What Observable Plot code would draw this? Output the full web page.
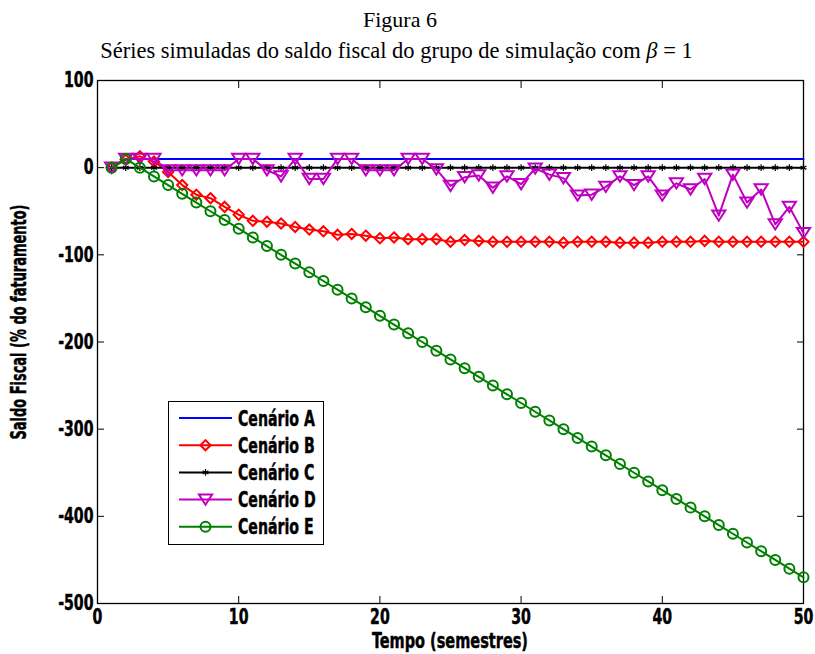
<!DOCTYPE html>
<html>
<head>
<meta charset="utf-8">
<script src="https://cdn.jsdelivr.net/npm/d3@7"></script>
<script src="https://cdn.jsdelivr.net/npm/@observablehq/plot@0.6"></script>
<style>
  body { margin: 0; background: #fff; }
  #wrap { position: relative; width: 815px; height: 654px; overflow: hidden; background: #fff; }
  .hd { position: absolute; left: 0; text-align: center; white-space: nowrap; color: #000;
        font-family: "Liberation Serif", "Times New Roman", serif; z-index: 2; }
  #fig { top: 9px; width: 800px; font-size: 22px; line-height: 22px; }
  #sub { top: 40px; width: 793px; font-size: 22.5px; line-height: 22px; }
  #chart { position: absolute; left: 0; top: 60px; z-index: 1; }
  #legend { position: absolute; left: 168px; top: 401px; z-index: 3; }
  .negrito { stroke: #000; stroke-width: 0.45px; }
</style>
</head>
<body>
<div id="wrap">
  <div class="hd" id="fig">Figura 6</div>
  <div class="hd" id="sub">Séries simuladas do saldo fiscal do grupo de simulação com <i>β</i> = 1</div>
  <div id="chart"></div>
  <svg id="legend" width="157" height="145"></svg>
</div>
<script>
// Time axis (semesters) and tick labels
const tempo = [1, 2, 3, 4, 5, 6, 7, 8, 9, 10, 11, 12, 13, 14, 15, 16, 17, 18, 19, 20,
  21, 22, 23, 24, 25, 26, 27, 28, 29, 30, 31, 32, 33, 34, 35, 36, 37, 38, 39, 40,
  41, 42, 43, 44, 45, 46, 47, 48, 49, 50];
const xTicks = [0, 10, 20, 30, 40, 50];
const yTicks = [100, 0, -100, -200, -300, -400, -500];

// Simulated fiscal balance (% of revenue), one value per semester
const cenarioA = [0, 10, 10, 10, 10, 10, 10, 10, 10, 10, 10, 10, 10, 10, 10, 10, 10, 10, 10, 10,
  10, 10, 10, 10, 10, 10, 10, 10, 10, 10, 10, 10, 10, 10, 10, 10, 10, 10, 10, 10,
  10, 10, 10, 10, 10, 10, 10, 10, 10, 10];
const cenarioB = [0, 9, 13, 7, -5, -20, -31, -35, -45, -54, -61, -62, -64, -68, -71, -73, -77, -76, -78, -81,
  -80, -82, -82, -82, -85, -83, -84, -85, -85, -85, -85, -85, -86, -85, -85, -85, -86, -86, -86, -85,
  -85, -85, -84, -85, -85, -85, -85, -85, -85, -85];
const cenarioC = [0, 0, 0, 0, 0, 0, 0, 0, 0, 0, 0, 0, 0, 0, 0, 0, 0, 0, 0, 0,
  0, 0, 0, 0, 0, 0, 0, 0, 0, 0, 0, 0, 0, 0, 0, 0, 0, 0, 0, 0,
  0, 0, 0, 0, 0, 0, 0, 0, 0, 0];
const cenarioD = [0, 10, 10, 10, -3, -3, -3, -3, -3, 10, 10, -3, -10, 10, -13, -13, 10, 10, -3, -3,
  -3, 10, 10, -2, -21, -11, -9, -23, -10, -19, -1, -8, -12, -32, -31, -22, -10, -20, -10, -32,
  -18, -25, -13, -55, -8, -40, -25, -65, -45, -75];
const cenarioE = [0, 10, 0, -10, -20, -30, -40, -50, -60, -70, -80, -90, -100, -110, -120, -130, -140, -150, -160, -170,
  -180, -190, -200, -210, -220, -230, -240, -250, -260, -270, -280, -290, -300, -310, -320, -330, -340, -350, -360, -370,
  -380, -390, -400, -410, -420, -430, -440, -450, -460, -470];

const nomes = ["Cenário A", "Cenário B", "Cenário C", "Cenário D", "Cenário E"];
const cores = ["#0000ff", "#ff0000", "#000000", "#c000c0", "#008000"];

// Downward-pointing triangle, centred on its bounding box
const trianguloBaixo = {
  draw(ctx, size) {
    const r = Math.sqrt(size / Math.PI);
    ctx.moveTo(-r, -0.78 * r);
    ctx.lineTo(r, -0.78 * r);
    ctx.lineTo(0, 0.78 * r);
    ctx.closePath();
  }
};

const estilos = [
  {valores: cenarioA, simbolo: null, r: 0, sw: 2},
  {valores: cenarioB, simbolo: "diamond2", r: 4.6, sw: 2},
  {valores: cenarioC, simbolo: "asterisk", r: 3.2, sw: 1.2},
  {valores: cenarioD, simbolo: trianguloBaixo, r: 6.6, sw: 2},
  {valores: cenarioE, simbolo: "circle", r: 5, sw: 2}
];

const marks = [
  Plot.frame({stroke: "#000", strokeWidth: 1.3}),
  Plot.axisY(yTicks, {anchor: "left", tickSize: 0, tickPadding: 4, tickFormat: d => String(d), label: null}),
  Plot.axisX(xTicks, {anchor: "bottom", tickSize: 0, tickPadding: 6, tickFormat: d => String(d), label: null}),
  Plot.axisX(xTicks, {anchor: "bottom", tickSize: 7, dy: -7, tickFormat: () => "", label: null}),
  Plot.axisX(xTicks, {anchor: "top", tickSize: 7, dy: 7, tickFormat: () => "", label: null}),
  Plot.axisY(yTicks, {anchor: "left", tickSize: 7, dx: 7, tickFormat: () => "", label: null}),
  Plot.axisY(yTicks, {anchor: "right", tickSize: 7, dx: -7, tickFormat: () => "", label: null})
];

estilos.forEach((s, i) => {
  const rows = tempo.map((t, j) => ({t, v: s.valores[j]}));
  marks.push(Plot.line(rows, {x: "t", y: "v", stroke: cores[i], strokeWidth: 2}));
  if (s.simbolo) {
    marks.push(Plot.dot(rows, {x: "t", y: "v", symbol: s.simbolo, r: s.r, stroke: cores[i],
      fill: "none", strokeWidth: s.sw}));
  }
});

const plot = Plot.plot({
  width: 815,
  height: 594,
  marginTop: 20,
  marginLeft: 97,
  marginRight: 12,
  marginBottom: 51,
  x: {domain: [0, 50]},
  y: {domain: [-500, 100]},
  style: {fontFamily: "'DejaVu Sans Condensed', 'DejaVu Sans', sans-serif", fontSize: "21px",
          fontWeight: "bold", color: "#000", background: "transparent"},
  marks
});
document.getElementById("chart").appendChild(plot);

const svgNS = "http://www.w3.org/2000/svg";
const svg = d3.select(plot);

// Condensed heavy lettering: measure a reference label, then squeeze horizontally
const probe = svg.append("text").text("Cenário A");
const larguraBase = probe.node().getComputedTextLength();
probe.remove();
const k = 77 / larguraBase;

function comprimir(t) {
  const par = t.parentNode;
  const r = t.getBoundingClientRect();
  const ancora = getComputedStyle(t).getPropertyValue("text-anchor");
  const pt = plot.createSVGPoint();
  pt.x = ancora === "end" ? r.right : ancora === "start" ? r.left : r.left + r.width / 2;
  pt.y = r.top;
  const p = pt.matrixTransform(par.getScreenCTM().inverse());
  const g = document.createElementNS(svgNS, "g");
  g.setAttribute("transform", `translate(${p.x},0) scale(${k},1) translate(${-p.x},0)`);
  par.insertBefore(g, t);
  g.appendChild(t);
  t.classList.add("negrito");
}

plot.querySelectorAll('g[aria-label$="tick label"] text').forEach(t => {
  if (t.textContent === "") t.remove();
});
Array.from(plot.querySelectorAll('g[aria-label$="tick label"] text')).forEach(comprimir);

// Axis titles
const [x0, x1] = plot.scale("x").range;
svg.append("text")
  .attr("class", "negrito")
  .attr("x", (x0 + x1) / 2).attr("y", 588)
  .attr("text-anchor", "middle")
  .attr("textLength", 156).attr("lengthAdjust", "spacingAndGlyphs")
  .text("Tempo (semestres)");
svg.append("text")
  .attr("class", "negrito")
  .attr("transform", "translate(26,262) rotate(-90)")
  .attr("text-anchor", "middle")
  .attr("textLength", 235).attr("lengthAdjust", "spacingAndGlyphs")
  .text("Saldo Fiscal (% do faturamento)");

// Legend
const leg = d3.select("#legend")
  .style("font-family", "'DejaVu Sans Condensed', 'DejaVu Sans', sans-serif")
  .style("font-size", "21px").style("font-weight", "bold");
leg.append("rect").attr("x", 0.5).attr("y", 0.5).attr("width", 155).attr("height", 143)
  .attr("fill", "#fff").attr("stroke", "#000").attr("stroke-width", 1);
const symbolos = {diamond2: d3.symbolDiamond2, asterisk: d3.symbolAsterisk, circle: d3.symbolCircle};
nomes.forEach((nome, i) => {
  const y = 17 + i * 27.2;
  leg.append("line").attr("x1", 11).attr("x2", 64).attr("y1", y).attr("y2", y)
    .attr("stroke", cores[i]).attr("stroke-width", 2);
  const s = estilos[i];
  if (s.simbolo) {
    const tipo = typeof s.simbolo === "string" ? symbolos[s.simbolo] : s.simbolo;
    leg.append("path").attr("transform", `translate(37.5,${y})`)
      .attr("d", d3.symbol(tipo, Math.PI * s.r * s.r)())
      .attr("fill", "none").attr("stroke", cores[i]).attr("stroke-width", s.sw);
  }
  leg.append("text").attr("class", "negrito")
    .attr("transform", `translate(70,${y + 7.5}) scale(${k},1)`).text(nome);
});
</script>
</body>
</html>
